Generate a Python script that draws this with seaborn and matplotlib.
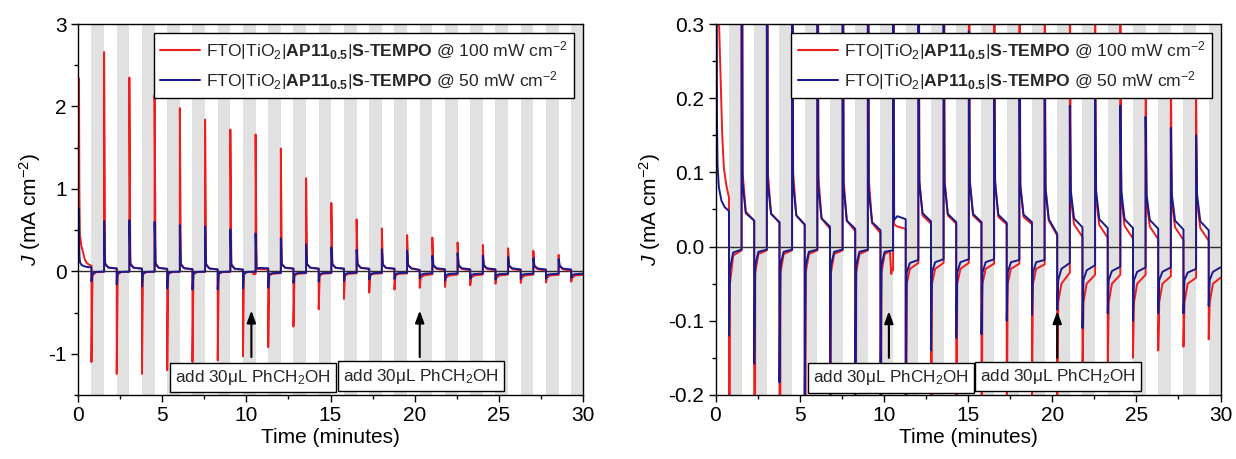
import matplotlib
matplotlib.use('Agg')
import matplotlib.pyplot as plt
import numpy as np
import pandas as pd
import seaborn as sns
from matplotlib.lines import Line2D
from matplotlib.ticker import MultipleLocator, FormatStrFormatter

sns.set_theme(style='ticks')
plt.rcParams['font.family'] = ['Liberation Sans', 'DejaVu Sans']
plt.rcParams['mathtext.fontset'] = 'custom'
plt.rcParams['mathtext.rm'] = 'Liberation Sans'
plt.rcParams['mathtext.it'] = 'Liberation Sans:italic'
plt.rcParams['mathtext.bf'] = 'Liberation Sans:bold'

# ---------------- data ----------------
light_on = [0.06, 1.55, 3.05, 4.55, 6.05, 7.55, 9.05, 10.55, 12.05, 13.55,
            15.05, 16.55, 18.05, 19.55, 21.05, 22.55, 24.05, 25.55, 27.05, 28.55]
light_off = [0.80, 2.30, 3.80, 5.30, 6.80, 8.30, 9.80, 11.30, 12.80, 14.30,
             15.80, 17.30, 18.80, 20.30, 21.80, 23.30, 24.80, 26.30, 27.80, 29.30]
t_end = 30.0
# sample offsets (minutes) after each switching event
t_a = 0.06
t_b = 0.25

# 100 mW cm-2 (red)
red_first_t = [0.06, 0.08, 0.11, 0.20, 0.30, 0.40, 0.50, 0.65, 0.80]
red_first_J = [2.34, 1.00, 0.45, 0.31, 0.23, 0.15, 0.105, 0.082, 0.066]
red_on_peak = [2.34, 2.66, 2.35, 2.14, 1.98, 1.84, 1.72, 1.66, 1.49, 1.13,
               0.83, 0.63, 0.52, 0.44, 0.41, 0.35, 0.32, 0.28, 0.25, 0.20]
red_on_a = [0.45, 0.10, 0.10, 0.10, 0.095, 0.09, 0.09, 0.030, 0.09, 0.09,
            0.09, 0.09, 0.085, 0.08, 0.065, 0.065, 0.065, 0.06, 0.06, 0.06]
red_on_b = [0.28, 0.047, 0.045, 0.042, 0.038, 0.035, 0.032, 0.027, 0.042, 0.042,
            0.042, 0.040, 0.040, 0.035, 0.030, 0.029, 0.028, 0.027, 0.026, 0.025]
red_on_end = [0.066, 0.035, 0.032, 0.029, 0.024, 0.021, 0.018, 0.024, 0.031, 0.031,
              0.031, 0.030, 0.030, 0.015, 0.013, 0.012, 0.011, 0.010, 0.009, 0.008]
red_off_peak = [-1.10, -1.245, -1.245, -1.20, -1.10, -1.08, -1.03, -0.92, -0.67, -0.46,
                -0.335, -0.257, -0.22, -0.20, -0.19, -0.17, -0.15, -0.14, -0.135, -0.125]
red_off_a = [-0.05, -0.035, -0.035, -0.035, -0.035, -0.035, -0.035, -0.05, -0.05, -0.05,
             -0.05, -0.05, -0.05, -0.075, -0.075, -0.075, -0.075, -0.075, -0.075, -0.075]
red_off_b = [-0.012, -0.010, -0.010, -0.010, -0.010, -0.010, -0.010, -0.030, -0.030, -0.030,
             -0.030, -0.030, -0.030, -0.050, -0.050, -0.050, -0.050, -0.050, -0.050, -0.050]
red_off_end = [-0.005, -0.005, -0.005, -0.005, -0.005, -0.005, -0.032, -0.022, -0.022, -0.022,
               -0.023, -0.023, -0.024, -0.035, -0.038, -0.038, -0.038, -0.040, -0.042, -0.042]
# dip of the red trace when the first 30 uL PhCH2OH was added (dark period 6)
red_dip_t = [10.36, 10.44, 10.50]
red_dip_J = [-0.006, -0.037, -0.030]

# 50 mW cm-2 (blue)
blue_first_t = [0.06, 0.07, 0.09, 0.12, 0.20, 0.35, 0.55, 0.80]
blue_first_J = [0.76, 0.35, 0.17, 0.11, 0.08, 0.062, 0.053, 0.048]
blue_on_peak = [0.76, 0.61, 0.62, 0.60, 0.56, 0.54, 0.51, 0.46, 0.40, 0.33,
                0.29, 0.26, 0.27, 0.25, 0.19, 0.22, 0.19, 0.175, 0.16, 0.15]
blue_on_a = [0.17, 0.085, 0.085, 0.085, 0.08, 0.08, 0.075, 0.036, 0.085, 0.085,
             0.085, 0.085, 0.08, 0.075, 0.075, 0.075, 0.075, 0.07, 0.07, 0.07]
blue_on_b = [0.08, 0.045, 0.044, 0.042, 0.038, 0.035, 0.033, 0.041, 0.045, 0.044,
             0.044, 0.043, 0.043, 0.037, 0.038, 0.037, 0.037, 0.036, 0.035, 0.034]
blue_on_end = [0.048, 0.035, 0.033, 0.030, 0.027, 0.024, 0.022, 0.037, 0.034, 0.033,
               0.033, 0.032, 0.033, 0.017, 0.026, 0.025, 0.025, 0.024, 0.023, 0.022]
blue_off_peak = [-0.12, -0.158, -0.183, -0.21, -0.22, -0.22, -0.21, -0.20, -0.14, -0.123,
                 -0.118, -0.10, -0.092, -0.085, -0.11, -0.09, -0.10, -0.09, -0.09, -0.08]
blue_off_a = [-0.030, -0.025, -0.025, -0.025, -0.025, -0.025, -0.025, -0.035, -0.035, -0.035,
              -0.035, -0.035, -0.035, -0.045, -0.045, -0.045, -0.045, -0.045, -0.045, -0.045]
blue_off_b = [-0.008, -0.007, -0.007, -0.007, -0.007, -0.007, -0.007, -0.022, -0.021, -0.021,
              -0.021, -0.021, -0.021, -0.030, -0.032, -0.033, -0.034, -0.034, -0.035, -0.034]
blue_off_end = [-0.004, -0.004, -0.004, -0.004, -0.004, -0.004, -0.005, -0.018, -0.017, -0.017,
                -0.017, -0.018, -0.018, -0.022, -0.025, -0.027, -0.028, -0.028, -0.030, -0.028]

series_names = ['FTO|TiO$_2$|$\\mathbf{AP11_{0.5}}$|$\\mathbf{S}$-$\\mathbf{TEMPO}$ @ 100 mW cm$^{-2}$',
                'FTO|TiO$_2$|$\\mathbf{AP11_{0.5}}$|$\\mathbf{S}$-$\\mathbf{TEMPO}$ @ 50 mW cm$^{-2}$']
series_colors = ['#f21c1c', '#1a1a8c']

add_label = 'add 30$\\mathregular{\\mu}$L PhCH$_2$OH'
add_time = [10.3, 20.3]


def build_trace(first_t, first_J, on_peak, on_a, on_b, on_end,
                off_peak, off_a, off_b, off_end, dip_t=None, dip_J=None):
    t = list(first_t)
    J = list(first_J)
    n = len(light_on)
    for k in range(n):
        if k > 0:
            t += [light_on[k], light_on[k] + t_a, light_on[k] + t_b, light_off[k]]
            J += [on_peak[k], on_a[k], on_b[k], on_end[k]]
        nxt = light_on[k + 1] if k + 1 < n else t_end
        t += [light_off[k], light_off[k] + t_a, light_off[k] + t_b]
        J += [off_peak[k], off_a[k], off_b[k]]
        if dip_t is not None:
            for dt, dj in zip(dip_t, dip_J):
                if light_off[k] + t_b < dt < nxt:
                    t.append(dt)
                    J.append(dj)
        t.append(nxt)
        J.append(off_end[k])
    return t, J


rt, rJ = build_trace(red_first_t, red_first_J, red_on_peak, red_on_a, red_on_b, red_on_end,
                     red_off_peak, red_off_a, red_off_b, red_off_end, red_dip_t, red_dip_J)
bt, bJ = build_trace(blue_first_t, blue_first_J, blue_on_peak, blue_on_a, blue_on_b, blue_on_end,
                     blue_off_peak, blue_off_a, blue_off_b, blue_off_end)

df = pd.concat([
    pd.DataFrame({'t': rt, 'J': rJ, 'series': series_names[0]}),
    pd.DataFrame({'t': bt, 'J': bJ, 'series': series_names[1]}),
], ignore_index=True)

# ---------------- figure ----------------
fig = plt.figure(figsize=(12.36, 4.59), dpi=100)
ax1 = fig.add_axes([78 / 1236, 1 - 395 / 459, 505 / 1236, 371 / 459])
ax2 = fig.add_axes([715.5 / 1236, 1 - 395 / 459, 505 / 1236, 371 / 459])

panels = [
    (ax1, (-1.5, 3.0), 1.0, 0.5, '%d'),
    (ax2, (-0.2, 0.3), 0.1, 0.05, '%.1f'),
]
box_y = {0: [-1.29, -1.27], 1: [-0.177, -0.175]}
arrow_y = {0: (-1.04, -0.475), 1: (-0.150, -0.087)}
box_x = [10.4, 20.35]

for i, (ax, ylim, major, minor, fmt) in enumerate(panels):
    # dark periods (light off) shaded
    for k in range(len(light_off)):
        nxt = light_on[k + 1] if k + 1 < len(light_on) else t_end
        ax.axvspan(light_off[k], nxt, color='#e1e1e1', lw=0, zorder=0)
    ax.axhline(0, color='#2b2b2b', lw=1.0, zorder=1)
    sns.lineplot(data=df, x='t', y='J', hue='series', hue_order=series_names,
                 palette=series_colors, sort=False, estimator=None, lw=1.4,
                 legend=False, ax=ax, zorder=2)
    ax.set_xlim(0, 30)
    ax.set_ylim(*ylim)
    ax.xaxis.set_major_locator(MultipleLocator(5))
    ax.xaxis.set_minor_locator(MultipleLocator(2.5))
    ax.yaxis.set_major_locator(MultipleLocator(major))
    ax.yaxis.set_minor_locator(MultipleLocator(minor))
    ax.yaxis.set_major_formatter(FormatStrFormatter(fmt))
    ax.tick_params(which='major', direction='out', length=5, width=1, labelsize=15,
                   color='black', labelcolor='black', pad=3)
    ax.tick_params(which='minor', direction='out', length=3, width=1, color='black')
    for sp in ax.spines.values():
        sp.set_visible(True)
        sp.set_color('black')
        sp.set_linewidth(1.0)
        sp.set_zorder(5)
    ax.set_xlabel('Time (minutes)', fontsize=15, color='black', labelpad=2)
    ax.set_ylabel('$J$ (mA cm$^{-2}$)', fontsize=15, color='black', labelpad=4)

    handles = [Line2D([], [], color=c, lw=1.5) for c in series_colors]
    leg = ax.legend(handles, series_names, loc='upper right', fontsize=12.6,
                    frameon=True, fancybox=False, framealpha=1, edgecolor='black',
                    borderaxespad=0.5, handlelength=2.3, handletextpad=0.35,
                    labelspacing=0.4, borderpad=0.35)
    leg.get_frame().set_linewidth(1.0)
    leg.set_zorder(6)

    for j, (tx, by) in enumerate(zip(box_x, box_y[i])):
        ax.annotate('', xy=(add_time[j], arrow_y[i][1]), xytext=(add_time[j], arrow_y[i][0]),
                    arrowprops=dict(arrowstyle='-|>,head_length=0.6,head_width=0.22',
                                    color='black', lw=1.5, shrinkA=0, shrinkB=0),
                    zorder=6)
        ax.text(tx, by, add_label, ha='center', va='center', fontsize=12.3, zorder=7,
                bbox=dict(boxstyle='square,pad=0.3', fc='white', ec='black', lw=1.0))

fig.savefig('out.png', dpi=100)
